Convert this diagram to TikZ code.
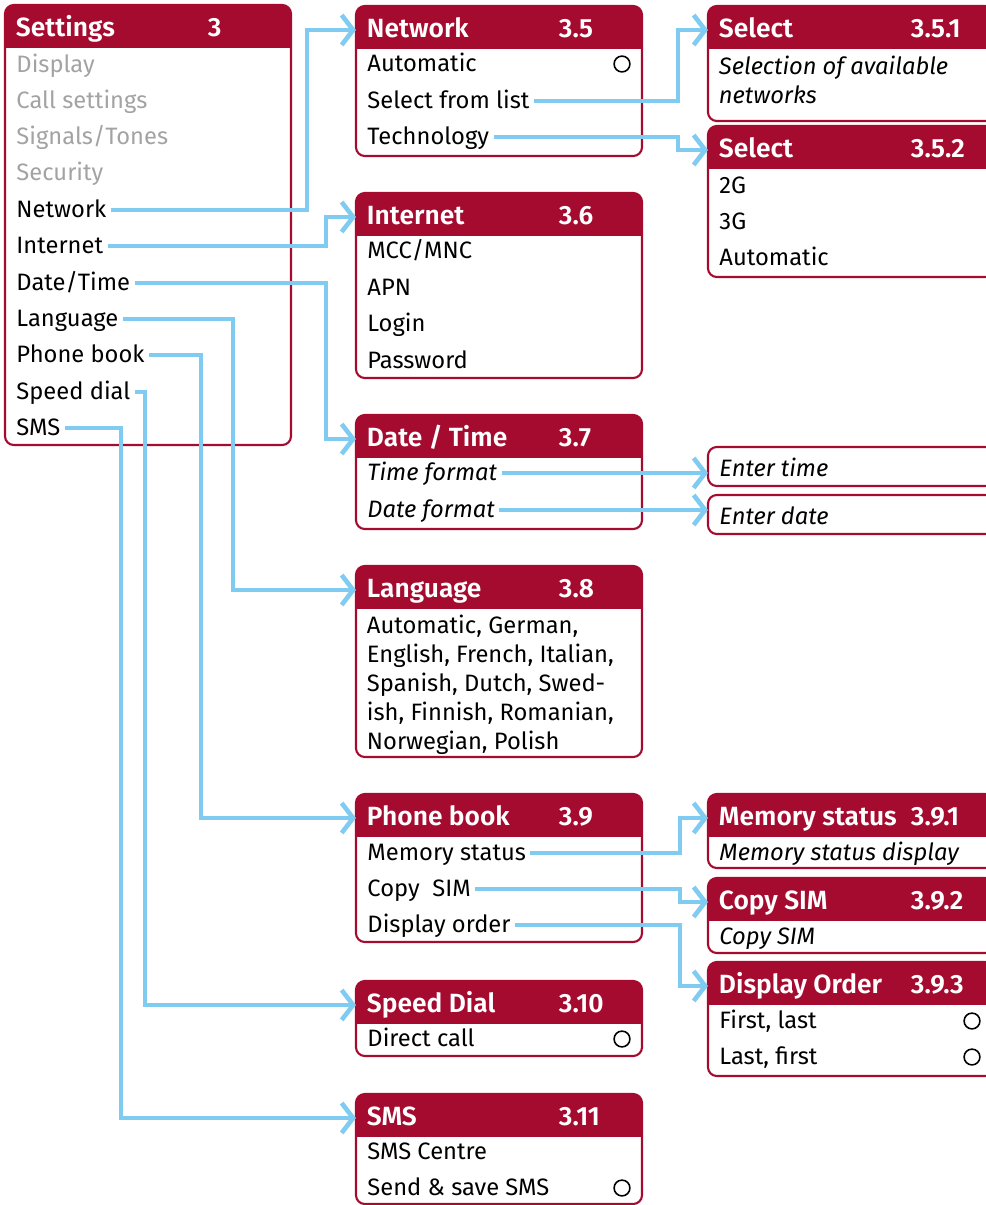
\documentclass[tikz,border=0pt]{standalone}
\usepackage{fontspec}
\setmainfont{Fira Sans}
\IfFontExistsTF{Fira Sans SemiBold}
  {\newfontfamily\headfont{Fira Sans SemiBold}}
  {\newcommand{\headfont}{\bfseries}}
\usetikzlibrary{arrows.meta, calc}
\definecolor{vred}{HTML}{A50B2F}
\definecolor{vblue}{HTML}{7FCBF1}
\definecolor{vgrey}{HTML}{A3A3A3}
\tikzset{
  every picture/.style={font=\fontsize{13.5}{16.5}\selectfont, line width=1.1pt},
  frame/.style={draw=vred, rounded corners=5pt, line width=1.2pt},
  headtext/.style={anchor=west, text=white, font=\fontsize{15}{18}\selectfont\headfont, inner sep=0pt, text height=0.95em, text depth=0.1em},
  entry/.style={anchor=west, inner xsep=2pt, inner ysep=0pt, text height=0.95em, text depth=0.1em},
  off/.style={entry, text=vgrey},
  note/.style={entry, font=\fontsize{13.5}{16.5}\selectfont\itshape},
  radio/.style={circle, draw, line width=0.9pt, minimum size=9pt, inner sep=0pt},
  link/.style={draw=vblue, line width=2.6pt, -{Straight Barb[length=6.5pt, width=17pt]}},
}
% menu box: name, x, y (top), height, title, number
\newcommand{\menubox}[6]{%
  \begin{scope}
    \clip[rounded corners=5pt] (#2,#3) rectangle ++(286,#4);
    \fill[vred] (#2,#3) rectangle ++(286,43);
  \end{scope}
  \draw[frame] (#2,#3) rectangle ++(286,#4);
  \node[headtext] (#1) at (#2+10,#3+24) {#5};
  \node[headtext] (#1-no) at (#2+202,#3+24) {#6};
  \coordinate (#1-in) at (#2,#3+24);
}

\begin{document}
\begin{tikzpicture}[x=0.02cm, y=-0.02cm]
  \useasboundingbox (0,0) rectangle (985,1205);
  % settings
  \menubox{s}{5}{5}{440}{Settings}{3}
  \node[off] (s-disp) at (12,65) {Display};
  \node[off] (s-call) at (12,101) {Call settings};
  \node[off] (s-sig) at (12,137) {Signals/Tones};
  \node[off] (s-sec) at (12,173) {Security};
  \node[entry] (s-net) at (12,210) {Network};
  \node[entry] (s-int) at (12,246) {Internet};
  \node[entry] (s-date) at (12,283) {Date/Time};
  \node[entry] (s-lang) at (12,319) {Language};
  \node[entry] (s-book) at (12,355) {Phone book};
  \node[entry] (s-speed) at (12,392) {Speed dial};
  \node[entry] (s-sms) at (12,428) {SMS};
  % second column
  \menubox{n}{356}{6}{150}{Network}{3.5}
  \node[entry] (n-auto) at (363,64) {Automatic};
  \node[radio] (n-auto-r) at (622,64) {};
  \node[entry] (n-list) at (363,101) {Select from list};
  \node[entry] (n-tech) at (363,137) {Technology};
  \menubox{i}{356}{193}{185}{Internet}{3.6}
  \node[entry] (i-mcc) at (363,251) {MCC/MNC};
  \node[entry] (i-apn) at (363,288) {APN};
  \node[entry] (i-login) at (363,324) {Login};
  \node[entry] (i-pass) at (363,361) {Password};
  \menubox{d}{356}{415}{114}{Date / Time}{3.7}
  \node[note] (d-time) at (363,473) {Time format};
  \node[note] (d-date) at (363,510) {Date format};
  \menubox{l}{356}{566}{191}{Language}{3.8}
  \node[anchor=north west, inner sep=0pt, align=left] (l-list) at (366,614)
    {Automatic, German,\\English, French, Italian,\\Spanish, Dutch, Swed-\\ish, Finnish, Romanian,\\Norwegian, Polish};
  \menubox{p}{356}{794}{148}{Phone book}{3.9}
  \node[entry] (p-mem) at (363,853) {Memory status};
  \node[entry] (p-copy) at (363,889) {Copy\ \ SIM};
  \node[entry] (p-ord) at (363,925) {Display order};
  \menubox{sd}{356}{981}{75}{Speed Dial}{3.10}
  \node[entry] (sd-call) at (363,1039) {Direct call};
  \node[radio] (sd-call-r) at (622,1039) {};
  \menubox{m}{356}{1094}{110}{SMS}{3.11}
  \node[entry] (m-centre) at (363,1152) {SMS Centre};
  \node[entry] (m-send) at (363,1188) {Send \& save SMS};
  \node[radio] (m-send-r) at (622,1188) {};
  % third column
  \menubox{sel1}{708}{6}{115}{Select}{3.5.1}
  \node[anchor=north west, inner sep=0pt, align=left, font=\fontsize{13.5}{16.5}\selectfont\itshape] (sel1-txt) at (718,55)
    {Selection of available\\networks};
  \menubox{sel2}{708}{126}{151}{Select}{3.5.2}
  \node[entry] (sel2-2g) at (715,186) {2G};
  \node[entry] (sel2-3g) at (715,222) {3G};
  \node[entry] (sel2-auto) at (715,258) {Automatic};
  \draw[frame] (708,447) rectangle (994,486);
  \node[note] (et) at (715,469) {Enter time};
  \coordinate (et-in) at (708,469);
  \draw[frame] (708,495) rectangle (994,534);
  \node[note] (ed) at (715,517) {Enter date};
  \coordinate (ed-in) at (708,511);
  \menubox{ms}{708}{794}{74}{Memory status}{3.9.1}
  \node[note] (ms-txt) at (715,853) {Memory status display};
  \menubox{cs}{708}{878}{75}{Copy SIM}{3.9.2}
  \node[note] (cs-txt) at (715,937) {Copy SIM};
  \menubox{do}{708}{962}{114}{Display Order}{3.9.3}
  \node[entry] (do-fl) at (715,1021) {First, last};
  \node[radio] (do-fl-r) at (972,1021) {};
  \node[entry] (do-lf) at (715,1057) {Last, first};
  \node[radio] (do-lf-r) at (972,1057) {};
  % connectors
  \draw[link] (s-net.east) -| ($(n-in)+(-49,0)$) -- (n-in);
  \draw[link] (s-int.east) -| ($(i-in)+(-30,0)$) -- (i-in);
  \draw[link] (s-date.east) -| ($(d-in)+(-30,0)$) -- (d-in);
  \draw[link] (s-lang.east) -| ($(l-in)+(-123,0)$) -- (l-in);
  \draw[link] (s-book.east) -| ($(p-in)+(-155,0)$) -- (p-in);
  \draw[link] (s-speed.east) -| ($(sd-in)+(-211,0)$) -- (sd-in);
  \draw[link] (s-sms.east) -| ($(m-in)+(-235,0)$) -- (m-in);
  \draw[link] (n-list.east) -| ($(sel1-in)+(-30,0)$) -- (sel1-in);
  \draw[link] (n-tech.east) -| ($(sel2-in)+(-30,0)$) -- (sel2-in);
  \draw[link] (d-time.east) -- (d-time.east -| et-in);
  \draw[link] (d-date.east) -- (d-date.east -| ed-in);
  \draw[link] (p-mem.east) -| ($(ms-in)+(-28,0)$) -- (ms-in);
  \draw[link] (p-copy.east) -| ($(cs-in)+(-28,0)$) -- (cs-in);
  \draw[link] (p-ord.east) -| ($(do-in)+(-28,0)$) -- (do-in);
\end{tikzpicture}
\end{document}
